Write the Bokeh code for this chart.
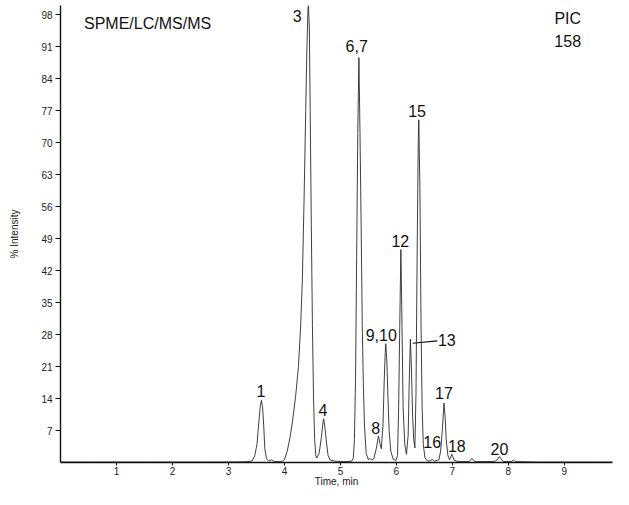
from bokeh.plotting import figure
from bokeh.models import FixedTicker, Label
from bokeh.core.properties import value
from bokeh.embed import file_html
from bokeh.resources import INLINE

# ---- data (time in min, % intensity) ----
time = [0.0, 0.5, 1.0, 1.5, 2.0, 2.5, 3.0, 3.3,
        3.42, 3.47, 3.51, 3.54, 3.57, 3.59, 3.61, 3.63, 3.65, 3.68, 3.72, 3.77, 3.82,
        3.95, 4.00, 4.05, 4.10, 4.15, 4.20, 4.25, 4.29, 4.32, 4.35, 4.38, 4.40,
        4.42, 4.43, 4.445, 4.46, 4.48, 4.50, 4.52, 4.54, 4.56, 4.58,
        4.62, 4.66, 4.69, 4.70, 4.72, 4.75, 4.78, 4.82, 4.90, 5.00, 5.10, 5.20,
        5.23, 5.25, 5.27, 5.29, 5.31, 5.33, 5.35, 5.37, 5.39, 5.41, 5.43, 5.46, 5.50, 5.53, 5.56,
        5.60, 5.64, 5.68, 5.71, 5.73, 5.76, 5.78, 5.80, 5.81, 5.83, 5.85, 5.87, 5.90, 5.94, 5.99,
        6.02, 6.04, 6.06, 6.08, 6.10, 6.12, 6.15, 6.18,
        6.21, 6.23, 6.25, 6.27, 6.29, 6.31, 6.33,
        6.35, 6.37, 6.39, 6.40, 6.42, 6.44, 6.46, 6.48, 6.51, 6.55, 6.60, 6.64, 6.68,
        6.76, 6.79, 6.82, 6.85, 6.87, 6.89, 6.92, 6.95, 6.99, 7.03, 7.10, 7.30, 7.35, 7.40,
        7.75, 7.80, 7.84, 7.88, 7.92, 8.05, 8.09, 8.13, 8.50, 9.00, 9.50, 9.86]
intensity = [0.1, 0.1, 0.1, 0.1, 0.1, 0.1, 0.1, 0.15,
             0.3, 1.5, 4.0, 8.5, 12.5, 13.6, 12.0, 8.0, 3.0, 0.8, 0.3, 0.6, 0.2,
             0.2, 0.6, 2.5, 5.5, 9.5, 14.5, 21.0, 30.0, 40.0, 57.0, 77.0, 90.0,
             99.0, 100.0, 95.0, 77.0, 52.0, 30.0, 14.0, 5.0, 1.5, 1.0,
             2.0, 5.5, 9.0, 9.6, 8.0, 4.5, 1.5, 0.5, 0.3, 0.2, 0.2, 0.3,
             1.0, 5.0, 18.0, 45.0, 72.0, 88.6, 72.0, 52.0, 30.0, 17.0, 8.0, 2.0, 0.6, 0.9, 0.5,
             1.0, 3.0, 5.8, 4.0, 3.0, 8.0, 17.0, 24.0, 26.0, 22.0, 14.0, 7.0, 2.5, 0.8, 0.4,
             1.5, 12.0, 30.0, 46.6, 30.0, 12.0, 4.0, 1.8,
             6.0, 18.0, 27.0, 20.0, 10.0, 5.0, 3.2,
             15.0, 45.0, 70.0, 75.0, 60.0, 30.0, 12.0, 4.0, 1.0, 0.4, 0.3, 0.7, 0.3,
             0.6, 2.5, 7.0, 13.0, 10.0, 5.0, 1.5, 0.6, 1.8, 0.5, 0.2, 0.2, 0.9, 0.2,
             0.2, 0.6, 1.3, 0.6, 0.2, 0.2, 0.5, 0.2, 0.1, 0.1, 0.1, 0.1]

peak_labels = ["1", "3", "4", "6,7", "8", "9,10", "12", "13", "15", "16", "17", "18", "20"]
label_time = [3.58, 4.23, 4.69, 5.29, 5.63, 5.73, 6.07, 6.90, 6.37, 6.64, 6.85, 7.08, 7.84]
label_level = [15.6, 97.8, 11.4, 91.1, 7.6, 27.9, 48.4, 26.8, 76.9, 4.5, 15.1, 3.7, 3.0]

x_ticks = [1, 2, 3, 4, 5, 6, 7, 8, 9]
y_ticks = [7, 14, 21, 28, 35, 42, 49, 56, 63, 70, 77, 84, 91, 98]

FONT = "Liberation Sans"

p = figure(width=613, height=489, x_range=(0, 9.86), y_range=(0, 100),
           output_backend="svg", toolbar_location=None,
           min_border_left=60, min_border_right=1, min_border_top=5, min_border_bottom=0)
p.outline_line_color = None
p.grid.visible = False
p.background_fill_color = "white"
p.border_fill_color = "white"

p.line(time, intensity, line_color="#2a2a2a", line_width=0.9)

p.text(x=label_time, y=label_level, text=peak_labels,
       text_font=value(FONT), text_font_size="16px", text_color="#111111",
       text_align="center", text_baseline="middle")

# leader line for peak 13
p.segment(x0=[6.29], y0=[26.1], x1=[6.73], y1=[26.6], line_color="#111111", line_width=1.2)

p.add_layout(Label(x=0.42, y=96.1, text="SPME/LC/MS/MS", text_font=FONT,
                   text_font_size="16px", text_color="#111111",
                   text_align="left", text_baseline="middle"))
p.add_layout(Label(x=9.06, y=97.2, text="PIC", text_font=FONT,
                   text_font_size="16px", text_color="#111111",
                   text_align="center", text_baseline="middle"))
p.add_layout(Label(x=9.06, y=92.2, text="158", text_font=FONT,
                   text_font_size="16px", text_color="#111111",
                   text_align="center", text_baseline="middle"))

for ax in (p.xaxis, p.yaxis):
    ax.axis_line_color = "#111111"
    ax.axis_line_width = 1.4
    ax.major_tick_line_color = "#111111"
    ax.major_tick_in = 0
    ax.minor_tick_line_color = None
    ax.major_label_text_font = FONT
    ax.major_label_text_font_size = "10px"
    ax.major_label_text_color = "#222222"
    ax.axis_label_text_font = FONT
    ax.axis_label_text_font_size = "10px"
    ax.axis_label_text_font_style = "normal"
    ax.axis_label_text_color = "#222222"

p.xaxis.ticker = FixedTicker(ticks=x_ticks)
p.yaxis.ticker = FixedTicker(ticks=y_ticks)
p.xaxis.major_tick_out = 3
p.xaxis.major_label_standoff = 1
p.xaxis.axis_label = "Time, min"
p.xaxis.axis_label_standoff = -2
p.yaxis.major_tick_out = 5
p.yaxis.major_label_standoff = 3
p.yaxis.axis_label = "% Intensity"
p.yaxis.axis_label_standoff = 18

open("out.html", "w").write(file_html(p, INLINE))
